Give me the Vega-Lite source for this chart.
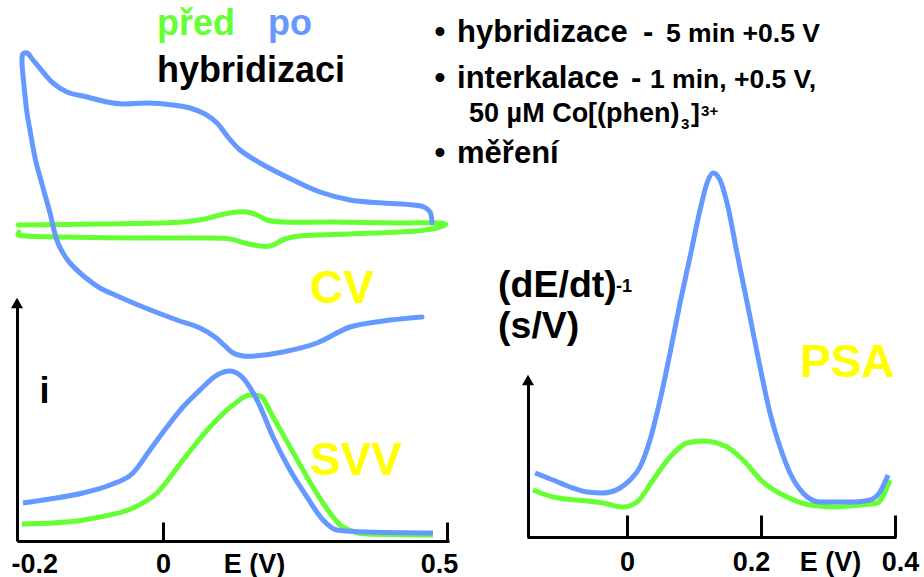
{
  "$schema": "https://vega.github.io/schema/vega-lite/v6.json",
  "width": 924,
  "height": 577,
  "autosize": {"type": "none"},
  "padding": 0,
  "background": "white",
  "config": {"view": {"stroke": null}, "font": "Liberation Sans"},
  "datasets": {
    "cv_po": [
      {"k": 0, "E": 0.4736, "i": 6.36}, {"k": 1, "E": 0.4701, "i": 6.58}, {"k": 2, "E": 0.4595, "i": 6.68},
      {"k": 3, "E": 0.4401, "i": 6.72}, {"k": 4, "E": 0.3873, "i": 6.76}, {"k": 5, "E": 0.3292, "i": 6.82},
      {"k": 6, "E": 0.2764, "i": 6.98}, {"k": 7, "E": 0.2289, "i": 7.22}, {"k": 8, "E": 0.1708, "i": 7.56},
      {"k": 9, "E": 0.1356, "i": 7.82}, {"k": 10, "E": 0.1144, "i": 8.08}, {"k": 11, "E": 0.0951, "i": 8.36},
      {"k": 12, "E": 0.0739, "i": 8.54}, {"k": 13, "E": 0.0475, "i": 8.66}, {"k": 14, "E": 0.0176, "i": 8.72},
      {"k": 15, "E": -0.0282, "i": 8.76}, {"k": 16, "E": -0.0704, "i": 8.74}, {"k": 17, "E": -0.0986, "i": 8.78},
      {"k": 18, "E": -0.1338, "i": 8.88}, {"k": 19, "E": -0.169, "i": 8.98}, {"k": 20, "E": -0.1937, "i": 9.16},
      {"k": 21, "E": -0.2113, "i": 9.38}, {"k": 22, "E": -0.2289, "i": 9.62}, {"k": 23, "E": -0.2394, "i": 9.76},
      {"k": 24, "E": -0.2465, "i": 9.74}, {"k": 25, "E": -0.2482, "i": 9.58}, {"k": 26, "E": -0.2465, "i": 9.32},
      {"k": 27, "E": -0.243, "i": 8.92}, {"k": 28, "E": -0.2394, "i": 8.56}, {"k": 29, "E": -0.2342, "i": 8.22},
      {"k": 30, "E": -0.2289, "i": 7.88}, {"k": 31, "E": -0.2236, "i": 7.58}, {"k": 32, "E": -0.2165, "i": 7.28},
      {"k": 33, "E": -0.2077, "i": 6.92}, {"k": 34, "E": -0.1989, "i": 6.56}, {"k": 35, "E": -0.1919, "i": 6.22},
      {"k": 36, "E": -0.1849, "i": 5.96}, {"k": 37, "E": -0.1761, "i": 5.76}, {"k": 38, "E": -0.1637, "i": 5.56},
      {"k": 39, "E": -0.1356, "i": 5.26}, {"k": 40, "E": -0.1109, "i": 5.06}, {"k": 41, "E": -0.0845, "i": 4.92},
      {"k": 42, "E": -0.0352, "i": 4.68}, {"k": 43, "E": 0.0246, "i": 4.42}, {"k": 44, "E": 0.0651, "i": 4.26},
      {"k": 45, "E": 0.0915, "i": 4.08}, {"k": 46, "E": 0.1092, "i": 3.9}, {"k": 47, "E": 0.1232, "i": 3.76},
      {"k": 48, "E": 0.1408, "i": 3.7}, {"k": 49, "E": 0.162, "i": 3.7}, {"k": 50, "E": 0.2113, "i": 3.78},
      {"k": 51, "E": 0.2711, "i": 3.96}, {"k": 52, "E": 0.3292, "i": 4.28}, {"k": 53, "E": 0.3873, "i": 4.4},
      {"k": 54, "E": 0.456, "i": 4.48}
    ],
    "cv_pred": [
      {"k": 0, "E": -0.2553, "i": 6.32}, {"k": 1, "E": -0.1109, "i": 6.34}, {"k": 2, "E": 0.0352, "i": 6.38},
      {"k": 3, "E": 0.0739, "i": 6.44}, {"k": 4, "E": 0.1004, "i": 6.52}, {"k": 5, "E": 0.1303, "i": 6.58},
      {"k": 6, "E": 0.1479, "i": 6.58}, {"k": 7, "E": 0.1655, "i": 6.52}, {"k": 8, "E": 0.1831, "i": 6.42},
      {"k": 9, "E": 0.2113, "i": 6.38}, {"k": 10, "E": 0.2993, "i": 6.38}, {"k": 11, "E": 0.4173, "i": 6.36},
      {"k": 12, "E": 0.4877, "i": 6.36}, {"k": 13, "E": 0.4982, "i": 6.33}, {"k": 14, "E": 0.4877, "i": 6.28},
      {"k": 15, "E": 0.4613, "i": 6.22}, {"k": 16, "E": 0.4173, "i": 6.18}, {"k": 17, "E": 0.3292, "i": 6.14},
      {"k": 18, "E": 0.2412, "i": 6.1}, {"k": 19, "E": 0.2148, "i": 6.04}, {"k": 20, "E": 0.1884, "i": 5.9},
      {"k": 21, "E": 0.1708, "i": 5.9}, {"k": 22, "E": 0.1444, "i": 5.96}, {"k": 23, "E": 0.118, "i": 6.04},
      {"k": 24, "E": 0.0651, "i": 6.06}, {"k": 25, "E": -0.0528, "i": 6.06}, {"k": 26, "E": -0.1813, "i": 6.08},
      {"k": 27, "E": -0.243, "i": 6.1}, {"k": 28, "E": -0.2553, "i": 6.12}, {"k": 29, "E": -0.2535, "i": 6.18}
    ],
    "svv_po": [
      {"E": -0.2465, "i": 0.76}, {"E": -0.1989, "i": 0.84}, {"E": -0.1408, "i": 0.96}, {"E": -0.0933, "i": 1.12},
      {"E": -0.0528, "i": 1.36}, {"E": -0.0229, "i": 1.82}, {"E": 0.007, "i": 2.28}, {"E": 0.0352, "i": 2.68},
      {"E": 0.0651, "i": 3.02}, {"E": 0.0951, "i": 3.32}, {"E": 0.118, "i": 3.4}, {"E": 0.1408, "i": 3.26},
      {"E": 0.1655, "i": 2.82}, {"E": 0.1937, "i": 2.08}, {"E": 0.2236, "i": 1.42}, {"E": 0.2535, "i": 0.88},
      {"E": 0.2817, "i": 0.42}, {"E": 0.3063, "i": 0.22}, {"E": 0.3592, "i": 0.18}, {"E": 0.4754, "i": 0.16}
    ],
    "svv_pred": [
      {"E": -0.2482, "i": 0.34}, {"E": -0.169, "i": 0.38}, {"E": -0.1109, "i": 0.48}, {"E": -0.0528, "i": 0.66},
      {"E": -0.0106, "i": 0.96}, {"E": 0.0352, "i": 1.62}, {"E": 0.0827, "i": 2.28}, {"E": 0.1232, "i": 2.72},
      {"E": 0.1532, "i": 2.92}, {"E": 0.1708, "i": 2.9}, {"E": 0.1937, "i": 2.48}, {"E": 0.2236, "i": 1.88},
      {"E": 0.2535, "i": 1.28}, {"E": 0.2817, "i": 0.76}, {"E": 0.3169, "i": 0.28}, {"E": 0.3592, "i": 0.14},
      {"E": 0.4754, "i": 0.12}
    ],
    "psa_po": [
      {"E": -0.1373, "r": 1.6}, {"E": -0.1104, "r": 1.425}, {"E": -0.0851, "r": 1.25}, {"E": -0.0597, "r": 1.125},
      {"E": -0.0358, "r": 1.1}, {"E": -0.0104, "r": 1.225}, {"E": 0.0045, "r": 1.425}, {"E": 0.0194, "r": 1.75},
      {"E": 0.0343, "r": 2.425}, {"E": 0.0493, "r": 3.425}, {"E": 0.0642, "r": 4.6}, {"E": 0.0791, "r": 5.85},
      {"E": 0.094, "r": 7.0}, {"E": 0.109, "r": 8.175}, {"E": 0.1194, "r": 8.85}, {"E": 0.1284, "r": 9.1},
      {"E": 0.1388, "r": 8.925}, {"E": 0.1493, "r": 8.35}, {"E": 0.1642, "r": 7.1}, {"E": 0.1836, "r": 5.5},
      {"E": 0.1985, "r": 4.25}, {"E": 0.2134, "r": 3.1}, {"E": 0.2284, "r": 2.25}, {"E": 0.2433, "r": 1.6},
      {"E": 0.2627, "r": 1.1}, {"E": 0.2881, "r": 0.875}, {"E": 0.3373, "r": 0.875}, {"E": 0.3627, "r": 0.925},
      {"E": 0.3776, "r": 1.125}, {"E": 0.3896, "r": 1.55}
    ],
    "psa_pred": [
      {"E": -0.1403, "r": 1.175}, {"E": -0.1104, "r": 1.0}, {"E": -0.0597, "r": 0.9}, {"E": -0.0358, "r": 0.85},
      {"E": -0.006, "r": 0.75}, {"E": 0.0149, "r": 0.875}, {"E": 0.0388, "r": 1.425}, {"E": 0.0642, "r": 2.0},
      {"E": 0.0896, "r": 2.35}, {"E": 0.1134, "r": 2.4}, {"E": 0.1493, "r": 2.25}, {"E": 0.1731, "r": 1.925},
      {"E": 0.203, "r": 1.375}, {"E": 0.2388, "r": 1.0}, {"E": 0.2731, "r": 0.8}, {"E": 0.3134, "r": 0.75},
      {"E": 0.3478, "r": 0.8}, {"E": 0.3731, "r": 0.85}, {"E": 0.3925, "r": 1.425}
    ],
    "left_arrow": [{"E": -0.257, "i": 4.76}],
    "right_arrow": [{"E": -0.1478, "r": 3.925}],
    "left_notes": [
      {"E": -0.0106, "i": 10.12, "text": "před", "role": "pred"},
      {"E": 0.1849, "i": 10.12, "text": "po", "role": "po"},
      {"E": -0.0106, "i": 9.18, "text": "hybridizaci", "role": "black"},
      {"E": 0.2588, "i": 4.76, "text": "CV", "role": "method"},
      {"E": 0.2588, "i": 1.32, "text": "SVV", "role": "method"}
    ],
    "right_notes": [
      {"E": -0.1925, "r": 6.0, "text": "(dE/dt)", "role": "ylab"},
      {"E": -0.0164, "r": 6.125, "text": "-1", "role": "ysup"},
      {"E": -0.1925, "r": 4.975, "text": "(s/V)", "role": "ylab"},
      {"E": 0.2582, "r": 4.0, "text": "PSA", "role": "method"}
    ],
    "steps": [
      {"E": -0.2791, "r": 12.375, "text": "•", "role": "bullet"},
      {"E": -0.2791, "r": 11.225, "text": "•", "role": "bullet"},
      {"E": -0.2791, "r": 9.35, "text": "•", "role": "bullet"},
      {"E": -0.2537, "r": 12.375, "text": "hybridizace", "role": "head"},
      {"E": 0.0239, "r": 12.375, "text": "-", "role": "head"},
      {"E": 0.0582, "r": 12.375, "text": "5 min +0.5 V", "role": "detail"},
      {"E": -0.2537, "r": 11.225, "text": "interkalace", "role": "head"},
      {"E": 0.006, "r": 11.225, "text": "-", "role": "head"},
      {"E": 0.0343, "r": 11.225, "text": "1 min, +0.5 V,", "role": "detail"},
      {"E": -0.2358, "r": 10.375, "text": "50 µM Co[(phen)", "role": "formula"},
      {"E": 0.0806, "r": 10.2, "text": "3", "role": "script"},
      {"E": 0.0955, "r": 10.375, "text": "]", "role": "detail"},
      {"E": 0.1105, "r": 10.525, "text": "3+", "role": "script"},
      {"E": -0.2537, "r": 9.35, "text": "měření", "role": "head"}
    ]
  },
  "layer": [
    {
      "encoding": {
        "x": {
          "field": "E", "type": "quantitative",
          "scale": {"domain": [-0.257, 0.5035], "range": [17, 449], "nice": false, "zero": false},
          "axis": {
            "orient": "bottom", "offset": -36, "values": [-0.2, 0, 0.5], "grid": false,
            "labelExpr": "datum.value === 0 ? '0' : (datum.value < 0 ? '-' : '') + format(abs(datum.value), '.1f')",
            "domainColor": "black", "domainWidth": 3,
            "tickColor": "black", "tickWidth": 3, "tickSize": -19,
            "tickOpacity": {"condition": {"test": "datum.value < -0.1", "value": 0}, "value": 1},
            "labelOffset": {"condition": [{"test": "datum.value < -0.1", "value": -15}, {"test": "datum.value > 0.4", "value": -8}], "value": 0},
            "labelFont": "Liberation Sans", "labelFontSize": 27, "labelFontWeight": "bold", "labelColor": "black",
            "labelBaseline": "alphabetic", "labelAlign": "center", "labelPadding": 50,
            "labelFlush": false, "labelOverlap": false, "labelBound": false,
            "title": "E (V)", "titleX": 254, "titleY": 31, "titleAlign": "center", "titleBaseline": "alphabetic",
            "titleFont": "Liberation Sans", "titleFontSize": 27, "titleFontWeight": "bold", "titleColor": "black", "titleAngle": 0
          }
        },
        "y": {
          "field": "i", "type": "quantitative",
          "scale": {"domain": [0, 4.76], "range": [541, 303], "nice": false, "zero": false},
          "axis": {
            "orient": "left", "offset": -17, "grid": false, "ticks": false, "labels": false,
            "domainColor": "black", "domainWidth": 3,
            "title": "i", "titleAngle": 0, "titleX": 27, "titleY": 402, "titleAlign": "center", "titleBaseline": "alphabetic",
            "titleFont": "Liberation Sans", "titleFontSize": 36, "titleFontWeight": "bold", "titleColor": "black"
          }
        }
      },
      "layer": [
        {"data": {"name": "cv_pred"}, "mark": {"type": "line", "color": "#66FF33", "strokeWidth": 5, "interpolate": "catmull-rom", "strokeCap": "round"}, "encoding": {"order": {"field": "k", "type": "quantitative"}}},
        {"data": {"name": "cv_po"}, "mark": {"type": "line", "color": "#6699FF", "strokeWidth": 5, "interpolate": "catmull-rom", "strokeCap": "round"}, "encoding": {"order": {"field": "k", "type": "quantitative"}}},
        {"data": {"name": "svv_pred"}, "mark": {"type": "line", "color": "#66FF33", "strokeWidth": 5, "interpolate": "monotone"}, "encoding": {}},
        {"data": {"name": "svv_po"}, "mark": {"type": "line", "color": "#6699FF", "strokeWidth": 5, "interpolate": "monotone"}, "encoding": {}},
        {"data": {"name": "left_arrow"}, "mark": {"type": "point", "shape": "triangle-up", "filled": true, "color": "black", "opacity": 1, "size": 144}, "encoding": {}},
        {"data": {"name": "left_notes"}, "transform": [{"filter": "datum.role === 'pred'"}], "mark": {"type": "text", "align": "left", "baseline": "alphabetic", "font": "Liberation Sans", "fontWeight": "bold", "fontSize": 36, "color": "#66FF33"}, "encoding": {"text": {"field": "text"}}},
        {"data": {"name": "left_notes"}, "transform": [{"filter": "datum.role === 'po'"}], "mark": {"type": "text", "align": "left", "baseline": "alphabetic", "font": "Liberation Sans", "fontWeight": "bold", "fontSize": 36, "color": "#6699FF"}, "encoding": {"text": {"field": "text"}}},
        {"data": {"name": "left_notes"}, "transform": [{"filter": "datum.role === 'black'"}], "mark": {"type": "text", "align": "left", "baseline": "alphabetic", "font": "Liberation Sans", "fontWeight": "bold", "fontSize": 36, "color": "black"}, "encoding": {"text": {"field": "text"}}},
        {"data": {"name": "left_notes"}, "transform": [{"filter": "datum.role === 'method'"}], "mark": {"type": "text", "align": "left", "baseline": "alphabetic", "font": "Liberation Sans", "fontWeight": "bold", "fontSize": 46, "color": "#FFFF00"}, "encoding": {"text": {"field": "text"}}}
      ]
    },
    {
      "encoding": {
        "x": {
          "field": "E", "type": "quantitative",
          "scale": {"domain": [-0.1493, 0.4015], "range": [527, 896], "nice": false, "zero": false},
          "axis": {
            "orient": "bottom", "offset": -40, "values": [0, 0.2, 0.4], "grid": false,
            "labelExpr": "datum.value === 0 ? '0' : format(datum.value, '.1f')",
            "domainColor": "black", "domainWidth": 3,
            "tickColor": "black", "tickWidth": 3, "tickSize": -22,
            "labelOffset": {"condition": [{"test": "datum.value > 0.3", "value": 5}, {"test": "datum.value > 0.1", "value": -10}], "value": 0},
            "labelFont": "Liberation Sans", "labelFontSize": 27, "labelFontWeight": "bold", "labelColor": "black",
            "labelBaseline": "alphabetic", "labelAlign": "center", "labelPadding": 55,
            "labelFlush": false, "labelOverlap": false, "labelBound": false,
            "title": "E (V)", "titleX": 830, "titleY": 33, "titleAlign": "center", "titleBaseline": "alphabetic",
            "titleFont": "Liberation Sans", "titleFontSize": 27, "titleFontWeight": "bold", "titleColor": "black", "titleAngle": 0
          }
        },
        "y": {
          "field": "r", "type": "quantitative",
          "scale": {"domain": [0, 3.925], "range": [537, 380], "nice": false, "zero": false},
          "axis": {
            "orient": "left", "offset": -528, "grid": false, "ticks": false, "labels": false,
            "domainColor": "black", "domainWidth": 3, "title": null
          }
        }
      },
      "layer": [
        {"data": {"name": "psa_pred"}, "mark": {"type": "line", "color": "#66FF33", "strokeWidth": 5, "interpolate": "monotone"}, "encoding": {}},
        {"data": {"name": "psa_po"}, "mark": {"type": "line", "color": "#6699FF", "strokeWidth": 5, "interpolate": "monotone"}, "encoding": {}},
        {"data": {"name": "right_arrow"}, "mark": {"type": "point", "shape": "triangle-up", "filled": true, "color": "black", "opacity": 1, "size": 144}, "encoding": {}},
        {"data": {"name": "right_notes"}, "transform": [{"filter": "datum.role === 'ylab'"}], "mark": {"type": "text", "align": "left", "baseline": "alphabetic", "font": "Liberation Sans", "fontWeight": "bold", "fontSize": 37.5, "color": "black"}, "encoding": {"text": {"field": "text"}}},
        {"data": {"name": "right_notes"}, "transform": [{"filter": "datum.role === 'ysup'"}], "mark": {"type": "text", "align": "left", "baseline": "alphabetic", "font": "Liberation Sans", "fontWeight": "bold", "fontSize": 18, "color": "black"}, "encoding": {"text": {"field": "text"}}},
        {"data": {"name": "right_notes"}, "transform": [{"filter": "datum.role === 'method'"}], "mark": {"type": "text", "align": "left", "baseline": "alphabetic", "font": "Liberation Sans", "fontWeight": "bold", "fontSize": 46, "color": "#FFFF00"}, "encoding": {"text": {"field": "text"}}},
        {"data": {"name": "steps"}, "transform": [{"filter": "datum.role === 'bullet'"}], "mark": {"type": "text", "align": "center", "baseline": "alphabetic", "font": "Liberation Sans", "fontWeight": "bold", "fontSize": 31, "color": "black"}, "encoding": {"text": {"field": "text"}}},
        {"data": {"name": "steps"}, "transform": [{"filter": "datum.role === 'head'"}], "mark": {"type": "text", "align": "left", "baseline": "alphabetic", "font": "Liberation Sans", "fontWeight": "bold", "fontSize": 31, "color": "black"}, "encoding": {"text": {"field": "text"}}},
        {"data": {"name": "steps"}, "transform": [{"filter": "datum.role === 'detail'"}], "mark": {"type": "text", "align": "left", "baseline": "alphabetic", "font": "Liberation Sans", "fontWeight": "bold", "fontSize": 26.5, "color": "black"}, "encoding": {"text": {"field": "text"}}},
        {"data": {"name": "steps"}, "transform": [{"filter": "datum.role === 'formula'"}], "mark": {"type": "text", "align": "left", "baseline": "alphabetic", "font": "Liberation Sans", "fontWeight": "bold", "fontSize": 27, "color": "black"}, "encoding": {"text": {"field": "text"}}},
        {"data": {"name": "steps"}, "transform": [{"filter": "datum.role === 'script'"}], "mark": {"type": "text", "align": "left", "baseline": "alphabetic", "font": "Liberation Sans", "fontWeight": "bold", "fontSize": 15, "color": "black"}, "encoding": {"text": {"field": "text"}}}
      ]
    }
  ],
  "resolve": {"scale": {"x": "independent", "y": "independent"}, "axis": {"x": "independent", "y": "independent"}}
}
